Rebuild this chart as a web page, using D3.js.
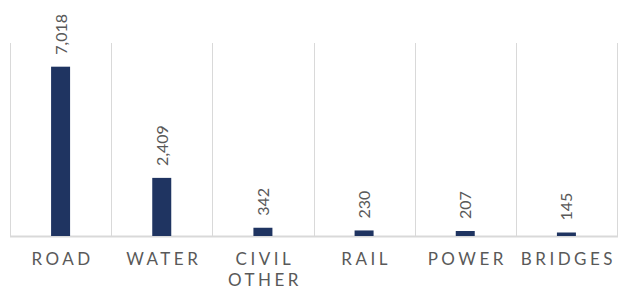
<!DOCTYPE html>
<html>
<head>
<meta charset="utf-8">
<script src="https://cdn.jsdelivr.net/npm/d3@7"></script>
<style>
  body { margin: 0; background: #fff; }
  svg text { font-family: Lato, "Open Sans", sans-serif; fill: #595959; }
</style>
</head>
<body>
<svg id="chart"></svg>
<script>
const width = 619;
const height = 294;
const plotLeft = 10;
const plotRight = 617;
const plotTop = 43;
const baseline = 236;

const categories = ['ROAD', 'WATER', 'CIVIL OTHER', 'RAIL', 'POWER', 'BRIDGES'];
const values = [7018, 2409, 342, 230, 207, 145];
const yMax = 8000;

const svg = d3.select('#chart')
    .attr('width', width)
    .attr('height', height);

const x = d3.scaleBand().domain(categories).range([plotLeft, plotRight]).padding(0);
const y = d3.scaleLinear().domain([0, yMax]).range([baseline, plotTop]);

const barWidth = 19;
const data = categories.map((c, i) => ({ cat: c, value: values[i] }));

// vertical separators between categories
const edges = categories.map(c => x(c)).concat([x.range()[1]]);
svg.selectAll('line.grid').data(edges)
    .enter()
    .append('line')
    .attr('class', 'grid')
    .attr('x1', d => Math.round(d) + 0.5)
    .attr('x2', d => Math.round(d) + 0.5)
    .attr('y1', y(yMax))
    .attr('y2', y(0))
    .attr('stroke', '#d9d9d9')
    .attr('stroke-width', 1);

// baseline
svg.append('line')
    .attr('x1', plotLeft)
    .attr('x2', plotRight + 1)
    .attr('y1', y(0) + 0.5)
    .attr('y2', y(0) + 0.5)
    .attr('stroke', '#d9d9d9')
    .attr('stroke-width', 2);

svg.selectAll('rect.bar').data(data)
    .enter()
    .append('rect')
    .attr('class', 'bar')
    .attr('x', d => x(d.cat) + x.bandwidth() / 2 - barWidth / 2)
    .attr('y', d => y(d.value))
    .attr('width', barWidth)
    .attr('height', d => y(0) - y(d.value))
    .attr('fill', '#1f3461');

// rotated value labels
svg.selectAll('text.value').data(data)
    .enter()
    .append('text')
    .attr('class', 'value')
    .attr('transform', d => `translate(${x(d.cat) + x.bandwidth() / 2 + 6}, ${y(d.value) - 12}) rotate(-90)`)
    .attr('font-size', 16)
    .text(d => d3.format(',')(d.value));

// category labels, wrapped on spaces
svg.selectAll('text.cat').data(data)
    .enter()
    .append('text')
    .attr('class', 'cat')
    .attr('text-anchor', 'middle')
    .attr('font-size', 17)
    .attr('letter-spacing', 3.5)
    .each(function (d) {
        const words = d.cat.split(' ');
        const t = d3.select(this);
        words.forEach((w, i) => {
            t.append('tspan')
                .attr('x', x(d.cat) + x.bandwidth() / 2 + 2)
                .attr('y', 265 + i * 21)
                .text(w);
        });
    });
</script>
</body>
</html>
